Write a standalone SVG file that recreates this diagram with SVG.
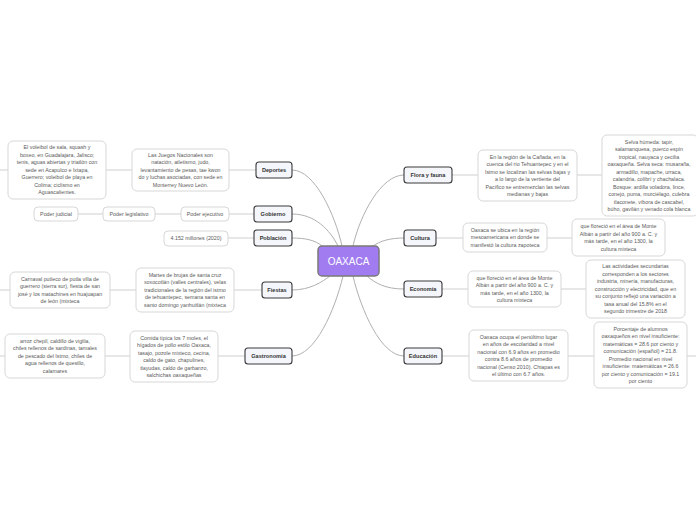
<svg xmlns="http://www.w3.org/2000/svg" width="696" height="520" viewBox="0 0 696 520">
<style>
.bg{fill:#ffffff}
.curve{fill:none;stroke:#b0b0b0;stroke-width:1}
.link{fill:none;stroke:#cfcfcf;stroke-width:1}
.center rect{fill:#a07cf0;stroke:#7a7a7a;stroke-width:1.5}
.center text{fill:#ffffff;font-family:"Liberation Sans",Arial,sans-serif;font-size:10px;text-anchor:middle}
.branch rect{fill:#f4f6fb;stroke:#3a3a3a;stroke-width:1.1}
.branch text{fill:#333333;font-family:"Liberation Sans",Arial,sans-serif;font-size:5.6px;font-weight:bold;text-anchor:middle}
.leaf rect{fill:#ffffff;stroke:#d2d2d2;stroke-width:0.9}
.leaf text{fill:#5a5a5a;font-family:"Liberation Sans",Arial,sans-serif;font-size:5.3px;text-anchor:middle}
</style>
<rect class="bg" x="0" y="0" width="696" height="520"/>
<g id="connectors">
<path class="curve" d="M292,170 C315,170 335,215 342,246"/>
<path class="curve" d="M292,214 C315,214 330,230 338,246"/>
<path class="curve" d="M292,238 C305,238 315,240 322,246"/>
<path class="curve" d="M292,290 C310,290 322,282 330,276"/>
<path class="curve" d="M292,356 C315,356 335,310 343,276"/>
<path class="curve" d="M404,175 C381,175 360,215 353,246"/>
<path class="curve" d="M404,238 C390,238 380,241 373,246"/>
<path class="curve" d="M404,289 C385,289 375,283 367,276"/>
<path class="curve" d="M404,356 C381,356 361,310 353,276"/>
<path class="link" d="M0,170H8 M106,170H132 M229,170H256"/>
<path class="link" d="M78,214H103 M155,214H181 M229,214H254"/>
<path class="link" d="M228,238H254"/>
<path class="link" d="M0,290H10 M110,290H136 M234,290H262"/>
<path class="link" d="M0,356H5 M105,356H130 M218,356H245"/>
<path class="link" d="M452,175H478 M577,175H602"/>
<path class="link" d="M436,238H463 M547,238H572"/>
<path class="link" d="M442,289H468 M561,289H586"/>
<path class="link" d="M442,356H469 M568,356H594 M687,356H696"/>
</g>
<g id="oaxaca" class="center"><rect x="318" y="246" width="61" height="30" rx="4"/><text x="348.5" y="264.5">OAXACA</text></g>

<g id="deportes" class="branch"><rect x="256" y="162" width="36" height="16" rx="3"/><text x="274" y="172">Deportes</text></g>
<g id="gobierno" class="branch"><rect x="254" y="206" width="38" height="16" rx="3"/><text x="273" y="216">Gobierno</text></g>
<g id="poblacion" class="branch"><rect x="254" y="230" width="38" height="16" rx="3"/><text x="273" y="240">Población</text></g>
<g id="fiestas" class="branch"><rect x="262" y="282" width="30" height="16" rx="3"/><text x="277" y="292">Fiestas</text></g>
<g id="gastronomia" class="branch"><rect x="245" y="348" width="47" height="16" rx="3"/><text x="268.5" y="358">Gastronomía</text></g>
<g id="flora" class="branch"><rect x="404" y="167" width="48" height="16" rx="3"/><text x="428" y="177">Flora y fauna</text></g>
<g id="cultura" class="branch"><rect x="404" y="230" width="32" height="16" rx="3"/><text x="420" y="240">Cultura</text></g>
<g id="economia" class="branch"><rect x="404" y="281" width="38" height="16" rx="3"/><text x="423" y="291">Economía</text></g>
<g id="educacion" class="branch"><rect x="404" y="348" width="38" height="16" rx="3"/><text x="423" y="358">Educación</text></g>

<g id="deportes-1" class="leaf"><rect x="132" y="149" width="97" height="42" rx="5"/>
<text x="180.5" y="156.9"><tspan x="180.5">Las Juegos Nacionales son</tspan><tspan x="180.5" dy="7.5">natación, atletismo, judo,</tspan><tspan x="180.5" dy="7.5">levantamiento de pesas, tae kwon</tspan><tspan x="180.5" dy="7.5">do y luchas asociadas, con sede en</tspan><tspan x="180.5" dy="7.5">Monterrey Nuevo León.</tspan></text></g>
<g id="deportes-2" class="leaf"><rect x="8" y="141" width="98" height="58" rx="5"/>
<text x="57" y="149.4"><tspan x="57">El voleibol de sala, squash y</tspan><tspan x="57" dy="7.5">boxeo, en Guadalajara, Jalisco;</tspan><tspan x="57" dy="7.5">tenis, aguas abiertas y triatlón con</tspan><tspan x="57" dy="7.5">sede en Acapulco e Ixtapa,</tspan><tspan x="57" dy="7.5">Guerrero; voleibol de playa en</tspan><tspan x="57" dy="7.5">Colima; ciclismo en</tspan><tspan x="57" dy="7.5">Aguascalientes.</tspan></text></g>

<g id="gobierno-1" class="leaf"><rect x="181" y="207" width="48" height="14" rx="4"/><text x="205" y="215.9">Poder ejecutivo</text></g>
<g id="gobierno-2" class="leaf"><rect x="103" y="207" width="52" height="14" rx="4"/><text x="129" y="215.9">Poder legislativo</text></g>
<g id="gobierno-3" class="leaf"><rect x="34" y="207" width="44" height="14" rx="4"/><text x="56" y="215.9">Poder judicial</text></g>

<g id="poblacion-1" class="leaf"><rect x="164" y="231" width="64" height="15" rx="4"/><text x="196" y="240.4">4.152 millones (2020)</text></g>

<g id="fiestas-1" class="leaf"><rect x="136" y="268" width="98" height="44" rx="5"/>
<text x="185" y="276.9"><tspan x="185">Martes de brujas de santa cruz</tspan><tspan x="185" dy="7.5">xoxocotlán (valles centrales), velas</tspan><tspan x="185" dy="7.5">tradicionales de la región del istmo</tspan><tspan x="185" dy="7.5">de tehuantepec, semana santa en</tspan><tspan x="185" dy="7.5">santo domingo yanhuitlán (mixteca</tspan></text></g>
<g id="fiestas-2" class="leaf"><rect x="10" y="272" width="100" height="36" rx="5"/>
<text x="60" y="280.6"><tspan x="60">Carnaval putleco de putla villa de</tspan><tspan x="60" dy="7.5">guerrero (sierra sur), fiesta de san</tspan><tspan x="60" dy="7.5">josé y los matachines en huajuapan</tspan><tspan x="60" dy="7.5">de león (mixteca</tspan></text></g>

<g id="gastronomia-1" class="leaf"><rect x="130" y="331" width="88" height="51" rx="5"/>
<text x="174" y="339.6"><tspan x="174">Comida típica los 7 moles, el</tspan><tspan x="174" dy="7.5">hígados de pollo estilo Oaxaca,</tspan><tspan x="174" dy="7.5">tasajo, pozole mixteco, cecina,</tspan><tspan x="174" dy="7.5">caldo de gato, chapulines,</tspan><tspan x="174" dy="7.5">tlayudas, caldo de garbanzo,</tspan><tspan x="174" dy="7.5">salchichas oaxaqueñas</tspan></text></g>
<g id="gastronomia-2" class="leaf"><rect x="5" y="334" width="100" height="44" rx="5"/>
<text x="55" y="342.9"><tspan x="55">arroz chepil, caldillo de vigilia,</tspan><tspan x="55" dy="7.5">chiles rellenos de sardinas, tamales</tspan><tspan x="55" dy="7.5">de pescado del Istmo, chiles de</tspan><tspan x="55" dy="7.5">agua rellenos de quesillo,</tspan><tspan x="55" dy="7.5">calamares</tspan></text></g>

<g id="flora-1" class="leaf"><rect x="478" y="150" width="99" height="51" rx="5"/>
<text x="527.5" y="158.6"><tspan x="527.5">En la región de la Cañada, en la</tspan><tspan x="527.5" dy="7.5">cuenca del río Tehuantepec y en el</tspan><tspan x="527.5" dy="7.5">Istmo se localizan las selvas bajas y</tspan><tspan x="527.5" dy="7.5">a lo largo de la vertiente del</tspan><tspan x="527.5" dy="7.5">Pacífico se entremezclan las selvas</tspan><tspan x="527.5" dy="7.5">medianas y bajas</tspan></text></g>
<g id="flora-2" class="leaf"><rect x="602" y="135" width="96" height="81" rx="5"/>
<text x="649" y="143.6"><tspan x="649">Selva húmeda: tapir,</tspan><tspan x="649" dy="7.5">salamanquesa, puerco espín</tspan><tspan x="649" dy="7.5">tropical, nauyaca y cecilia</tspan><tspan x="649" dy="7.5">oaxaqueña. Selva seca: musaraña,</tspan><tspan x="649" dy="7.5">armadillo, mapache, urraca,</tspan><tspan x="649" dy="7.5">calandria, colibrí y chachalaca.</tspan><tspan x="649" dy="7.5">Bosque: ardilla voladora, lince,</tspan><tspan x="649" dy="7.5">conejo, puma, murciélago, culebra</tspan><tspan x="649" dy="7.5">tlaconete, víbora de cascabel,</tspan><tspan x="649" dy="7.5">búho, gavilán y venado cola blanca</tspan></text></g>

<g id="cultura-1" class="leaf"><rect x="463" y="223" width="84" height="29" rx="5"/>
<text x="505" y="231.9"><tspan x="505">Oaxaca se ubica en la región</tspan><tspan x="505" dy="7.5">mesoamericana en donde se</tspan><tspan x="505" dy="7.5">manifestó la cultura zapoteca</tspan></text></g>
<g id="cultura-2" class="leaf"><rect x="572" y="219" width="93" height="37" rx="5"/>
<text x="618.5" y="228.1"><tspan x="618.5">que floreció en el área de Monte</tspan><tspan x="618.5" dy="7.5">Albán a partir del año 900 a. C. y</tspan><tspan x="618.5" dy="7.5">más tarde, en el año 1300, la</tspan><tspan x="618.5" dy="7.5">cultura mixteca</tspan></text></g>

<g id="economia-1" class="leaf"><rect x="468" y="271" width="93" height="36" rx="5"/>
<text x="514.5" y="279.6"><tspan x="514.5">que floreció en el área de Monte</tspan><tspan x="514.5" dy="7.5">Albán a partir del año 900 a. C. y</tspan><tspan x="514.5" dy="7.5">más tarde, en el año 1300, la</tspan><tspan x="514.5" dy="7.5">cultura mixteca</tspan></text></g>
<g id="economia-2" class="leaf"><rect x="586" y="260" width="99" height="58" rx="5"/>
<text x="635.5" y="268.4"><tspan x="635.5">Las actividades secundarias</tspan><tspan x="635.5" dy="7.5">corresponden a los sectores</tspan><tspan x="635.5" dy="7.5">industria, minería, manufacturas,</tspan><tspan x="635.5" dy="7.5">construcción y electricidad, que en</tspan><tspan x="635.5" dy="7.5">su conjunto reflejó una variación a</tspan><tspan x="635.5" dy="7.5">tasa anual del 15.8% en el</tspan><tspan x="635.5" dy="7.5">segundo trimestre de 2018</tspan></text></g>

<g id="educacion-1" class="leaf"><rect x="469" y="330" width="99" height="51" rx="5"/>
<text x="518.5" y="338.6"><tspan x="518.5">Oaxaca ocupa el penúltimo lugar</tspan><tspan x="518.5" dy="7.5">en años de escolaridad a nivel</tspan><tspan x="518.5" dy="7.5">nacional con 6.9 años en promedio</tspan><tspan x="518.5" dy="7.5">contra 8.6 años de promedio</tspan><tspan x="518.5" dy="7.5">nacional (Censo 2010). Chiapas es</tspan><tspan x="518.5" dy="7.5">el último con 6.7 años.</tspan></text></g>
<g id="educacion-2" class="leaf"><rect x="594" y="322" width="93" height="66" rx="5"/>
<text x="640.5" y="330.6"><tspan x="640.5">Porcentaje de alumnos</tspan><tspan x="640.5" dy="7.5">oaxaqueños en nivel insuficiente:</tspan><tspan x="640.5" dy="7.5">matemáticas = 28.6 por ciento y</tspan><tspan x="640.5" dy="7.5">comunicación (español) = 21.8.</tspan><tspan x="640.5" dy="7.5">Promedio nacional en nivel</tspan><tspan x="640.5" dy="7.5">insuficiente: matemáticas = 26.6</tspan><tspan x="640.5" dy="7.5">por ciento y comunicación = 19.1</tspan><tspan x="640.5" dy="7.5">por ciento</tspan></text></g>
</svg>
